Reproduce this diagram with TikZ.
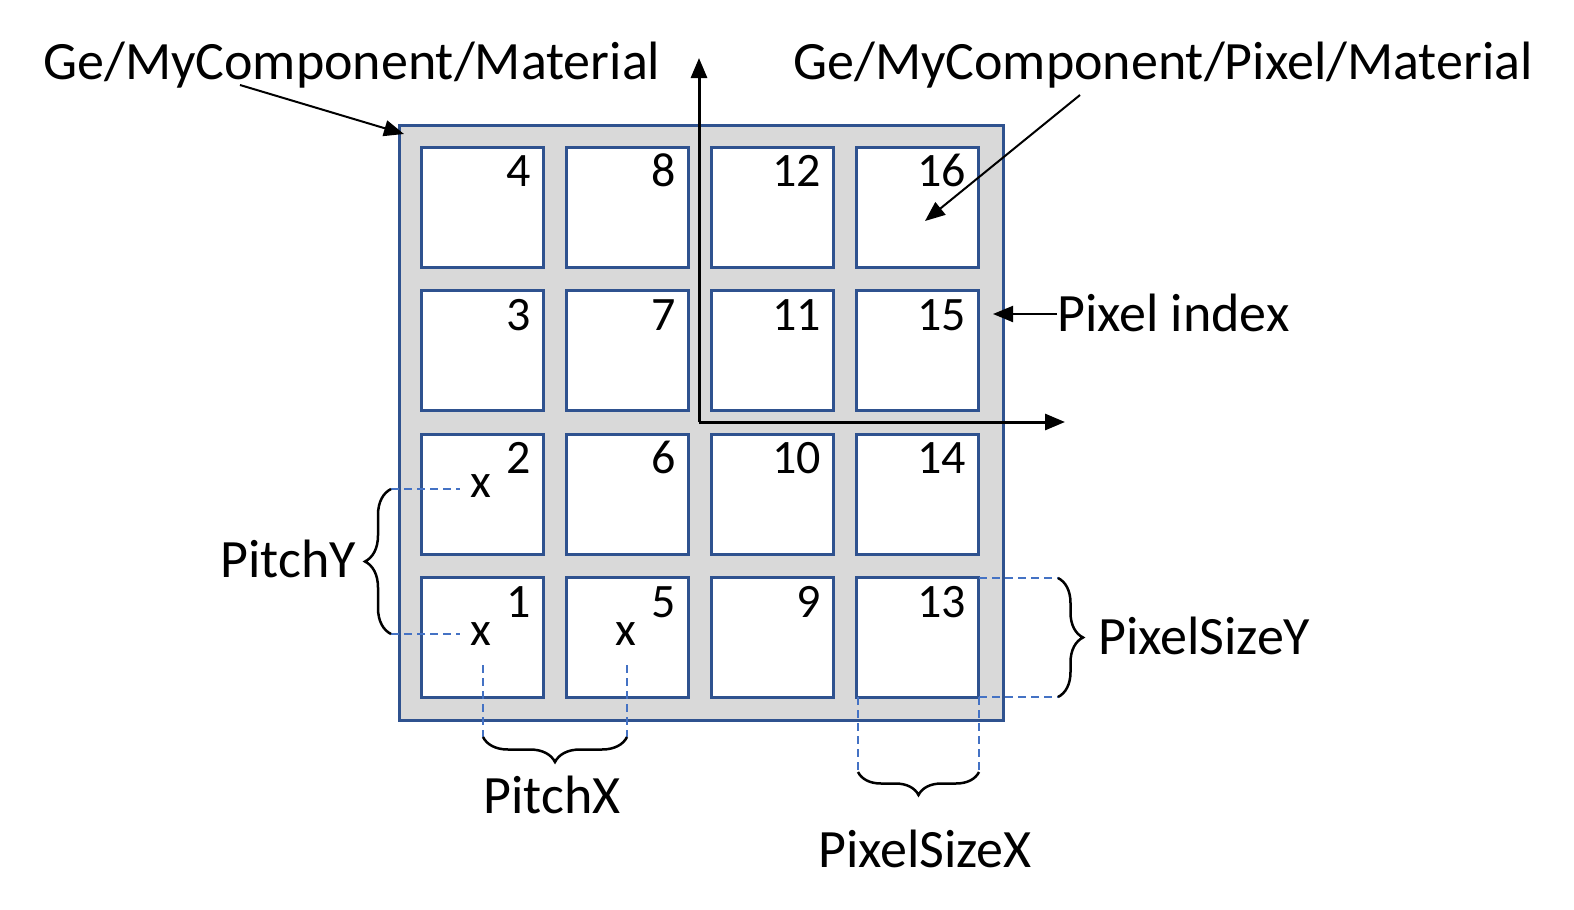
\documentclass[tikz,border=0pt]{standalone}
\usepackage{fontspec}
\setmainfont{Carlito}
\usetikzlibrary{arrows.meta,decorations.pathreplacing}

\definecolor{cellblue}{RGB}{47,82,143}
\definecolor{dashblue}{RGB}{68,114,196}
\definecolor{panelgray}{RGB}{217,217,217}

\begin{document}
\begin{tikzpicture}[
    x = 1pt,
    y = -1pt,
    >={Triangle[length=20pt,width=16pt]},
    frame/.style = {
      draw = cellblue,
      fill = panelgray,
      line width = 3pt,
      inner sep = 0pt,
      minimum width = 604pt,
      minimum height = 595pt
    },
    pixcell/.style = {
      draw = cellblue,
      fill = white,
      line width = 3pt,
      inner sep = 0pt,
      minimum width = 122pt,
      minimum height = 120pt
    },
    pixnum/.style = {
      anchor = base east,
      inner sep = 0pt,
      font = \fontsize{48}{52}\selectfont
    },
    xmark/.style = {
      anchor = base,
      inner sep = 0pt,
      font = \fontsize{48}{52}\selectfont
    },
    lbl/.style = {
      inner sep = 0pt,
      font = \fontsize{54}{60}\selectfont
    },
    axis/.style = {line width = 3pt},
    pointer/.style = {line width = 2pt},
    guide/.style = {
      draw = dashblue,
      line width = 1.8pt,
      dash pattern = on 8pt off 5pt
    },
    brace/.style = {
      line width = 2.5pt,
      decorate,
      decoration = {brace, amplitude = #1}
    }
  ]
  \useasboundingbox (0,0) rectangle (1574,910);

  \node[frame] (det) at (701,422.5) {};

  % pixels, numbered column by column from the bottom
  \foreach \c in {0,...,3}
    \foreach \r in {0,...,3} {
      \pgfmathtruncatemacro{\idx}{4*\c+4-\r}
      \node[pixcell] (p\idx) at (482+145*\c, 207+143.5*\r) {};
      \node[pixnum] (n\idx) at ([xshift=-13pt,yshift=-41pt]p\idx.north east) {\idx};
    }

  \node[xmark] (x2) at (481,497) {x};
  \node[xmark] (x1) at (481,645) {x};
  \node[xmark] (x5) at (626,645) {x};

  % axes
  \coordinate (origin) at (699,422);
  \coordinate (ytip) at (699,58);
  \coordinate (xtip) at (1065,422);
  \draw[axis,->] (origin) -- (ytip);
  \draw[axis,->] (origin) -- (xtip);

  % labels
  \node[lbl, anchor=base west] (matlbl) at (43,79) {Ge/MyComponent/Material};
  \node[lbl, anchor=base west] (pixmatlbl) at (793,79) {Ge/MyComponent/Pixel/Material};
  \node[lbl, anchor=base west] (idxlbl) at (1057,331) {Pixel index};
  \node[lbl, anchor=base east] (pitchy) at (356,577) {PitchY};
  \node[lbl, anchor=base west] (sizey) at (1098,654) {PixelSizeY};
  \node[lbl, anchor=base] (pitchx) at (552,813) {PitchX};
  \node[lbl, anchor=base] (sizex) at (925,867) {PixelSizeX};

  \coordinate (matfrom) at (240,85);
  \coordinate (matto) at (404,134);
  \draw[pointer,->] (matfrom) -- (matto);
  \coordinate (pixfrom) at (1080,95);
  \coordinate (pixto) at (925,221);
  \draw[pointer,->] (pixfrom) -- (pixto);
  \coordinate (idxto) at (993,314);
  \draw[pointer,->] (idxlbl.west |- idxto) -- (idxto);

  % pitch and size guides
  \draw[guide] (391,489) -- (460,489);
  \draw[guide] (391,634) -- (460,634);
  \draw[brace=26pt] (391,634) -- (391,489);

  \draw[guide] (483,665) -- (483,737);
  \draw[guide] (627,665) -- (627,737);
  \draw[brace=25pt] (627,737) -- (483,737);

  \draw[guide] (979,578) -- (1058,578);
  \draw[guide] (979,697) -- (1058,697);
  \draw[brace=25pt] (1058,578) -- (1058,697);

  \draw[guide] (858,697) -- (858,772);
  \draw[guide] (979,697) -- (979,772);
  \draw[brace=23pt] (979,772) -- (858,772);

\end{tikzpicture}
\end{document}
